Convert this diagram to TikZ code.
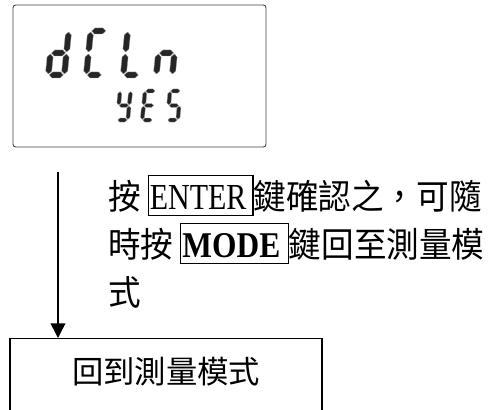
\documentclass[tikz,border=0pt]{standalone}
\usepackage{fontspec}
\setmainfont{Liberation Serif}
\newfontfamily\cjk{Noto Sans CJK TC}
\usetikzlibrary{arrows.meta}

\newcommand\hseg[3]{\fill[segment] (#1,#3) -- ++(3,-3) -- (#2-3,#3-3) -- (#2,#3) -- (#2-3,#3+3) -- (#1+3,#3+3) -- cycle;}
\newcommand\vseg[3]{\fill[segment] (#1,#2) -- ++(3,3) -- (#1+3,#3-3) -- (#1,#3) -- (#1-3,#3-3) -- (#1-3,#2+3) -- cycle;}
\newcommand\sgA{\hseg{4}{18}{3}}
\newcommand\sgB{\vseg{19}{4}{24}}
\newcommand\sgC{\vseg{19}{26}{46}}
\newcommand\sgD{\hseg{4}{18}{47}}
\newcommand\sgE{\vseg{3}{26}{46}}
\newcommand\sgF{\vseg{3}{4}{24}}
\newcommand\sgG{\hseg{4}{18}{25}}
\newcommand\lcdchar[4]{\begin{scope}[shift={(#2,#3)},scale=#1,xslant=0.1]#4\end{scope}}
% width of the word, the word, space on its right
\newcommand\keybox[3]{{\rmfamily\setlength\fboxsep{0.8pt}\setlength\fboxrule{0.9pt}%
    \fbox{\rule[-3.7pt]{0pt}{27.7pt}\resizebox{#1}{18pt}{#2}\hspace*{#3}}}}

\begin{document}
\begin{tikzpicture}[x=0.75pt,y=-0.75pt,>={Triangle[width=11pt,length=11pt]},
    segment/.style={fill=black!85,draw=black!40,line width=0.25pt},
    lcd/.style={draw=black!75,line width=0.7pt,rounded corners=2pt,
        minimum width=189.75pt,minimum height=106.5pt,inner sep=0pt},
    textline/.style={anchor=base west,inner sep=0pt,font=\cjk\fontsize{26}{30}\selectfont},
    result/.style={draw,line width=1.1pt,anchor=north,minimum width=234pt,
        inner xsep=0pt,inner ysep=14pt,text depth=45pt,font=\cjk\fontsize{23.5}{28}\selectfont},
    flow/.style={->,line width=1.1pt}]

    \useasboundingbox (0,0) rectangle (489,410);
    \clip (0,0) rectangle (489,410);

    \node[lcd] (lcd) at (139.5,76) {};
    \lcdchar{1}{50}{28}{\sgB\sgC\sgD\sgE\sgG}
    \lcdchar{1}{88}{28}{\sgA\sgD\sgE\sgF}
    \lcdchar{1}{125}{28}{\sgD\sgE\sgF}
    \lcdchar{1}{158}{28}{\sgC\sgE\sgG}
    \lcdchar{0.66}{118.3}{89}{\sgB\sgC\sgD\sgF\sgG}
    \lcdchar{0.66}{143.3}{89}{\sgA\sgD\sgE\sgF\sgG}
    \lcdchar{0.66}{168.3}{89}{\sgA\sgC\sgD\sgF\sgG}

    \node[textline] (line1) at (108,209) {\scalebox{0.94}[1]{按\hspace{5.5pt}\keybox{77pt}{ENTER}{4pt}鍵確認之，可隨}};
    \node[textline] (line2) at (108,257) {\scalebox{0.94}[1]{時按\hspace{5.5pt}\keybox{78pt}{\bfseries MODE}{5.2pt}鍵回至測量模}};
    \node[textline] (line3) at (108,305) {\scalebox{0.94}[1]{式}};

    \node[result] (result) at (166,338) {回到測量模式};

    \coordinate (start) at (58,172);
    \draw[flow] (start) -- (start |- result.north);

\end{tikzpicture}
\end{document}
